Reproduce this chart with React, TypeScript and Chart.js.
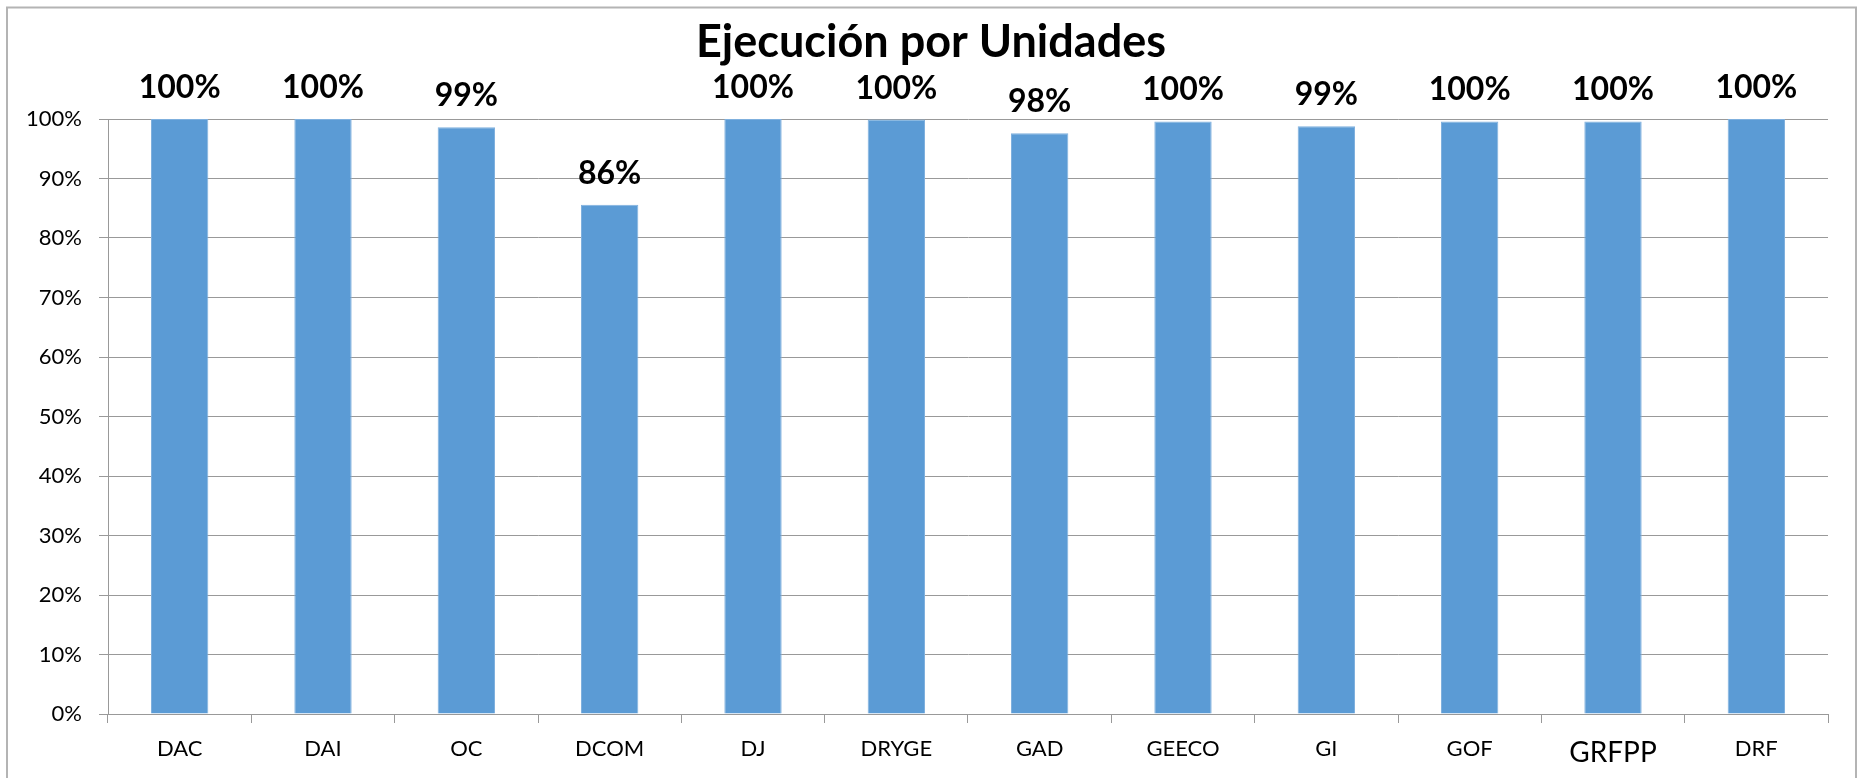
import React, { useEffect, useRef } from "react";
import { Chart, registerables } from "chart.js";

Chart.register(...registerables);

const categories = ["DAC", "DAI", "OC", "DCOM", "DJ", "DRYGE", "GAD", "GEECO", "GI", "GOF", "GRFPP", "DRF"];
const values = [100, 100, 98.6, 85.6, 100, 99.9, 97.6, 99.6, 98.8, 99.6, 99.6, 100];
const yTicks = [0, 10, 20, 30, 40, 50, 60, 70, 80, 90, 100];
const titleText = "Ejecución por Unidades";

const FONT = "Lato, 'Open Sans', sans-serif";
const GRID = "#999999";

const overlay = {
  id: "overlay",
  afterDraw(chart: any) {
    const ctx = chart.ctx;
    ctx.save();
    // outer border
    ctx.strokeStyle = "#b4b4b4";
    ctx.lineWidth = 2;
    ctx.beginPath();
    ctx.moveTo(7, 800);
    ctx.lineTo(7, 7.5);
    ctx.lineTo(1856, 7.5);
    ctx.lineTo(1856, 800);
    ctx.stroke();
    // title
    ctx.fillStyle = "#000";
    ctx.font = `bold 45px ${FONT}`;
    ctx.textAlign = "center";
    ctx.textBaseline = "alphabetic";
    ctx.fillText(titleText, 931, 57);
    // data labels
    const meta = chart.getDatasetMeta(0);
    ctx.font = `bold 32px ${FONT}`;
    meta.data.forEach((bar: any, i: number) => {
      const v = chart.data.datasets[0].data[i] as number;
      ctx.fillText(Math.round(v) + "%", bar.x, bar.y - 21);
    });
    ctx.restore();
  },
};

export default function App() {
  const ref = useRef<HTMLCanvasElement>(null);
  useEffect(() => {
    if (!ref.current) return;
    const chart = new Chart(ref.current, {
      type: "bar",
      data: {
        labels: categories,
        datasets: [
          {
            data: values,
            backgroundColor: "#5B9BD5",
            borderColor: "#7FB0DE",
            borderWidth: 1,
            barPercentage: 0.8,
            categoryPercentage: 0.5,
          },
        ],
      },
      options: {
        responsive: false,
        animation: false,
        layout: { padding: { top: 119, left: 0, right: 32, bottom: 0 } },
        plugins: {
          legend: { display: false },
          title: { display: false },
          tooltip: { enabled: false },
        },
        scales: {
          x: {
            afterFit(scale: any) {
              scale.height = 64;
            },
            grid: {
              drawOnChartArea: false,
              drawTicks: true,
              tickLength: 9,
              offset: true,
              color: GRID,
            },
            border: { display: true, color: GRID },
            ticks: {
              color: "#000",
              padding: 13,
              maxRotation: 0,
              font: (c: any) => ({ family: FONT, size: c.index === 10 ? 28 : 22 }),
            },
          },
          y: {
            min: 0,
            max: 100,
            afterFit(scale: any) {
              scale.width = 108;
            },
            afterBuildTicks(scale: any) {
              scale.ticks = yTicks.map((v) => ({ value: v }));
            },
            grid: { color: GRID, tickLength: 9, drawTicks: true },
            border: { display: true, color: GRID },
            ticks: {
              color: "#000",
              padding: 17,
              font: { family: FONT, size: 22 },
              callback: (v: any) => v + "%",
            },
          },
        },
      },
      plugins: [overlay],
    });
    return () => chart.destroy();
  }, []);
  return (
    <div style={{ position: "absolute", left: 0, top: 0, width: 1860, height: 778, background: "#fff" }}>
      <canvas ref={ref} width={1860} height={778} style={{ display: "block" }} />
    </div>
  );
}
